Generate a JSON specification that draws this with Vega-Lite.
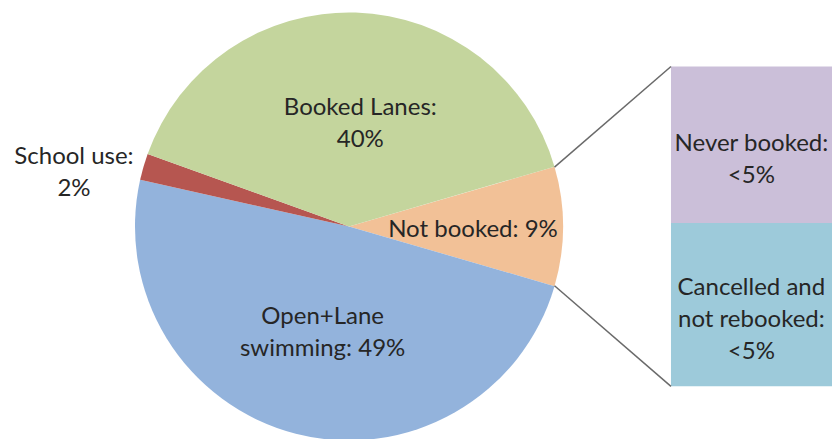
{
  "$schema": "https://vega.github.io/schema/vega-lite/v6.json",
  "width": 836,
  "height": 439,
  "padding": 0,
  "autosize": {"type": "fit", "contains": "padding"},
  "background": "white",
  "config": {"view": {"stroke": null}},
  "datasets": {
    "pie": [
      {"part": "Not booked", "share": 9, "idx": 1, "label": "Not booked: 9%"},
      {"part": "Open+Lane swimming", "share": 49, "idx": 2, "label": "Open+Lane\nswimming: 49%"},
      {"part": "School use", "share": 2, "idx": 3, "label": "School use:\n2%"},
      {"part": "Booked Lanes", "share": 40, "idx": 4, "label": "Booked Lanes:\n40%"}
    ],
    "notbooked": [
      {"part": "Cancelled and not rebooked", "share": 4.6, "idx": 1, "label": "Cancelled and\nnot rebooked:\n<5%"},
      {"part": "Never booked", "share": 4.4, "idx": 2, "label": "Never booked:\n<5%"}
    ],
    "one": [{}]
  },
  "layer": [
    {
      "data": {"name": "pie"},
      "mark": {"type": "arc", "outerRadius": 214},
      "encoding": {
        "x": {"datum": 9.754, "type": "quantitative", "scale": {"domain": [0, 23.365], "nice": false, "zero": false}, "axis": null},
        "y": {"datum": 4.5, "type": "quantitative", "scale": {"domain": [-1.397, 10.872], "nice": false, "zero": false}, "axis": null},
        "theta": {"field": "share", "type": "quantitative", "stack": true, "scale": {"range": [1.288, 7.571]}},
        "order": {"field": "idx", "type": "quantitative"},
        "color": {
          "field": "part", "type": "nominal", "legend": null,
          "scale": {
            "domain": ["Not booked", "Open+Lane swimming", "School use", "Booked Lanes", "Cancelled and not rebooked", "Never booked"],
            "range": ["#F2C197", "#93B3DC", "#B65650", "#C4D59D", "#9DCADA", "#CBBFD9"]
          }
        }
      }
    },
    {
      "data": {"name": "pie"},
      "mark": {
        "type": "text",
        "radius": {"expr": "datum.part === 'Not booked' ? 124 : 106"},
        "dx": {"expr": "datum.part === 'Booked Lanes' ? 8 : 0"},
        "dy": {"expr": "4 - 16 * (length(split(datum.label, '\\n')) - 1)"},
        "lineBreak": "\n",
        "lineHeight": 32,
        "font": "Lato",
        "fontSize": 24,
        "color": "#262626",
        "align": "center",
        "baseline": "middle"
      },
      "encoding": {
        "x": {"datum": 9.754, "type": "quantitative", "scale": {"domain": [0, 23.365], "nice": false, "zero": false}, "axis": null},
        "y": {"datum": 4.5, "type": "quantitative", "scale": {"domain": [-1.397, 10.872], "nice": false, "zero": false}, "axis": null},
        "theta": {"field": "share", "type": "quantitative", "stack": true, "scale": {"range": [1.288, 7.571]}},
        "order": {"field": "idx", "type": "quantitative"},
        "text": {"field": "label", "type": "nominal"},
        "opacity": {"condition": {"test": "datum.part === 'School use'", "value": 0}, "value": 1}
      }
    },
    {
      "data": {"name": "pie"},
      "transform": [{"filter": "datum.part === 'School use'"}],
      "mark": {
        "type": "text",
        "dy": {"expr": "3 - 16 * (length(split(datum.label, '\\n')) - 1)"},
        "lineBreak": "\n",
        "lineHeight": 32,
        "font": "Lato",
        "fontSize": 24,
        "color": "#262626",
        "align": "center",
        "baseline": "middle"
      },
      "encoding": {
        "x": {"datum": 2.068, "type": "quantitative", "scale": {"domain": [0, 23.365], "nice": false, "zero": false}, "axis": null},
        "y": {"datum": 6.079, "type": "quantitative", "scale": {"domain": [-1.397, 10.872], "nice": false, "zero": false}, "axis": null},
        "text": {"field": "label", "type": "nominal"}
      }
    },
    {
      "data": {"name": "notbooked"},
      "transform": [
        {"stack": "share", "groupby": [], "sort": [{"field": "idx", "order": "ascending"}], "as": ["y0", "y1"]}
      ],
      "mark": {"type": "rect"},
      "encoding": {
        "x": {"datum": 18.753, "type": "quantitative", "scale": {"domain": [0, 23.365], "nice": false, "zero": false}, "axis": null},
        "x2": {"datum": 23.253},
        "y": {"field": "y0", "type": "quantitative", "scale": {"domain": [-1.397, 10.872], "nice": false, "zero": false}, "axis": null},
        "y2": {"field": "y1"},
        "color": {
          "field": "part", "type": "nominal", "legend": null,
          "scale": {
            "domain": ["Not booked", "Open+Lane swimming", "School use", "Booked Lanes", "Cancelled and not rebooked", "Never booked"],
            "range": ["#F2C197", "#93B3DC", "#B65650", "#C4D59D", "#9DCADA", "#CBBFD9"]
          }
        }
      }
    },
    {
      "data": {"name": "notbooked"},
      "transform": [
        {"stack": "share", "groupby": [], "sort": [{"field": "idx", "order": "ascending"}], "as": ["y0", "y1"]},
        {"calculate": "(datum.y0 + datum.y1) / 2", "as": "ymid"}
      ],
      "mark": {
        "type": "text",
        "lineBreak": "\n",
        "lineHeight": 32,
        "font": "Lato",
        "fontSize": 24,
        "color": "#262626",
        "align": "center",
        "baseline": "middle",
        "dy": {"expr": "15 - 16 * (length(split(datum.label, '\\n')) - 1)"}
      },
      "encoding": {
        "x": {"datum": 21.0, "type": "quantitative", "scale": {"domain": [0, 23.365], "nice": false, "zero": false}, "axis": null},
        "y": {"field": "ymid", "type": "quantitative", "scale": {"domain": [-1.397, 10.872], "nice": false, "zero": false}, "axis": null},
        "text": {"field": "label", "type": "nominal"}
      }
    },
    {
      "data": {"name": "one"},
      "mark": {"type": "rule", "color": "#6A6A6A", "strokeWidth": 1.5},
      "encoding": {
        "x": {"datum": 15.498, "type": "quantitative", "scale": {"domain": [0, 23.365], "nice": false, "zero": false}, "axis": null},
        "y": {"datum": 6.168, "type": "quantitative", "scale": {"domain": [-1.397, 10.872], "nice": false, "zero": false}, "axis": null},
        "x2": {"datum": 18.753},
        "y2": {"datum": 9.0}
      }
    },
    {
      "data": {"name": "one"},
      "mark": {"type": "rule", "color": "#6A6A6A", "strokeWidth": 1.5},
      "encoding": {
        "x": {"datum": 15.498, "type": "quantitative", "scale": {"domain": [0, 23.365], "nice": false, "zero": false}, "axis": null},
        "y": {"datum": 2.832, "type": "quantitative", "scale": {"domain": [-1.397, 10.872], "nice": false, "zero": false}, "axis": null},
        "x2": {"datum": 18.753},
        "y2": {"datum": 0.0}
      }
    }
  ]
}
